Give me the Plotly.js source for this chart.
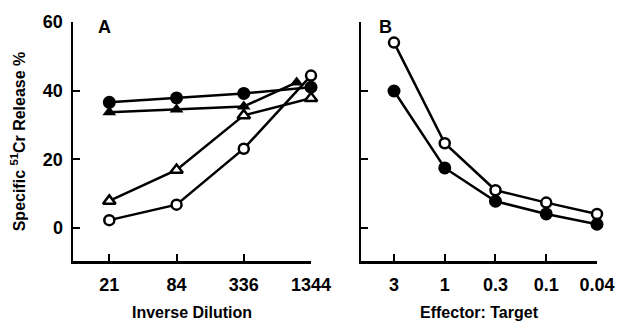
<!DOCTYPE html>
<html><head><meta charset="utf-8">
<script src="https://cdn.plot.ly/plotly-3.0.1.min.js"></script>
<style>html,body{margin:0;padding:0;background:#fff}#chart{width:617px;height:328px}</style>
</head><body><div id="chart"></div>
<script>
// Panel A: inverse dilution
const dilutionTicks = [21, 84, 336, 1344];
const dilutionX = [21, 84, 336, 1344];
const dilutionXFilledTri = [21, 84, 336, 1000];
const aFilledCircle = [36.6, 37.9, 39.2, 41.0];
const aFilledTriangle = [33.7, 34.5, 35.4, 42.4];
const aOpenTriangle = [7.9, 16.9, 32.8, 37.8];
const aOpenCircle = [2.3, 6.8, 23.1, 44.4];
// Panel B: effector:target
const etLabels = ['3', '1', '0.3', '0.1', '0.04'];
const bOpenCircle = [54.0, 24.7, 11.0, 7.4, 4.1];
const bFilledCircle = [39.9, 17.5, 7.8, 4.1, 1.1];
const yTicks = [0, 20, 40, 60];

const FONT = 'Liberation Sans, Arial, sans-serif';
const LW = 2.5;
function tr(x, y, xa, ya, symbol, filled, size) {
  return {
    x: x, y: y, xaxis: xa, yaxis: ya, type: 'scatter', mode: 'lines+markers',
    line: {color: '#000', width: LW},
    marker: {symbol: symbol, size: size, color: filled ? '#000' : '#fff',
             line: {color: '#000', width: filled ? 0 : 2.5}},
    cliponaxis: false, showlegend: false, hoverinfo: 'skip'
  };
}
const etIdx = etLabels.map((_, i) => i);
const data = [
  tr(dilutionX, aOpenCircle, 'x', 'y', 'circle', false, 10),
  tr(dilutionX, aOpenTriangle, 'x', 'y', 'triangle-up', false, 11),
  tr(dilutionXFilledTri, aFilledTriangle, 'x', 'y', 'triangle-up', true, 12),
  tr(dilutionX, aFilledCircle, 'x', 'y', 'circle', true, 13),
  tr(etIdx, bOpenCircle, 'x2', 'y2', 'circle', false, 10),
  tr(etIdx, bFilledCircle, 'x2', 'y2', 'circle', true, 13)
];
const tickFont = {family: FONT, size: 18, color: '#000', weight: 'bold'};
const titleFont = {family: FONT, size: 16, color: '#000', weight: 'bold'};
const axBase = {showline: true, linecolor: '#000', linewidth: 2.5, ticks: 'inside',
  ticklen: 7, tickwidth: 2, tickcolor: '#000', showgrid: false, zeroline: false,
  tickfont: tickFont, fixedrange: true, ticklabeloverflow: 'allow'};
const yRange = [-9.6, 60];
const layout = {
  width: 617, height: 328, margin: {l: 0, r: 0, t: 0, b: 0},
  paper_bgcolor: '#fff', plot_bgcolor: '#fff',
  xaxis: Object.assign({}, axBase, {domain: [73/617, 311/617], type: 'log',
    range: [0.997, Math.log10(1344)], tickvals: dilutionTicks, ticktext: dilutionTicks.map(String),
    anchor: 'y', ticklabelstandoff: 6,
    title: {text: 'Inverse Dilution', font: titleFont, standoff: 13}}),
  yaxis: Object.assign({}, axBase, {domain: [1 - 261/328, 1 - 22/328], range: yRange,
    tickvals: yTicks, ticktext: yTicks.map(String), anchor: 'x', ticklabelstandoff: 4,
    title: {text: 'Specific <sup>51</sup>Cr Release %', font: titleFont, standoff: 14}}),
  xaxis2: Object.assign({}, axBase, {domain: [361/617, 597/617], range: [-0.65, 4],
    tickvals: etIdx, ticktext: etLabels, anchor: 'y2', ticklabelstandoff: 6,
    title: {text: 'Effector: Target', font: titleFont, standoff: 13}}),
  yaxis2: Object.assign({}, axBase, {domain: [1 - 261/328, 1 - 22/328], range: yRange,
    tickvals: yTicks, showticklabels: false, anchor: 'x2'}),
  annotations: [
    {text: 'A', x: 96/617, y: 1 - 15/328, xref: 'paper', yref: 'paper', showarrow: false,
     font: {family: FONT, size: 18, color: '#000', weight: 'bold'}},
    {text: 'B', x: 385/617, y: 1 - 15/328, xref: 'paper', yref: 'paper', showarrow: false,
     font: {family: FONT, size: 18, color: '#000', weight: 'bold'}}
  ]
};
Plotly.newPlot('chart', data, layout, {staticPlot: true, displayModeBar: false});
</script></body></html>
